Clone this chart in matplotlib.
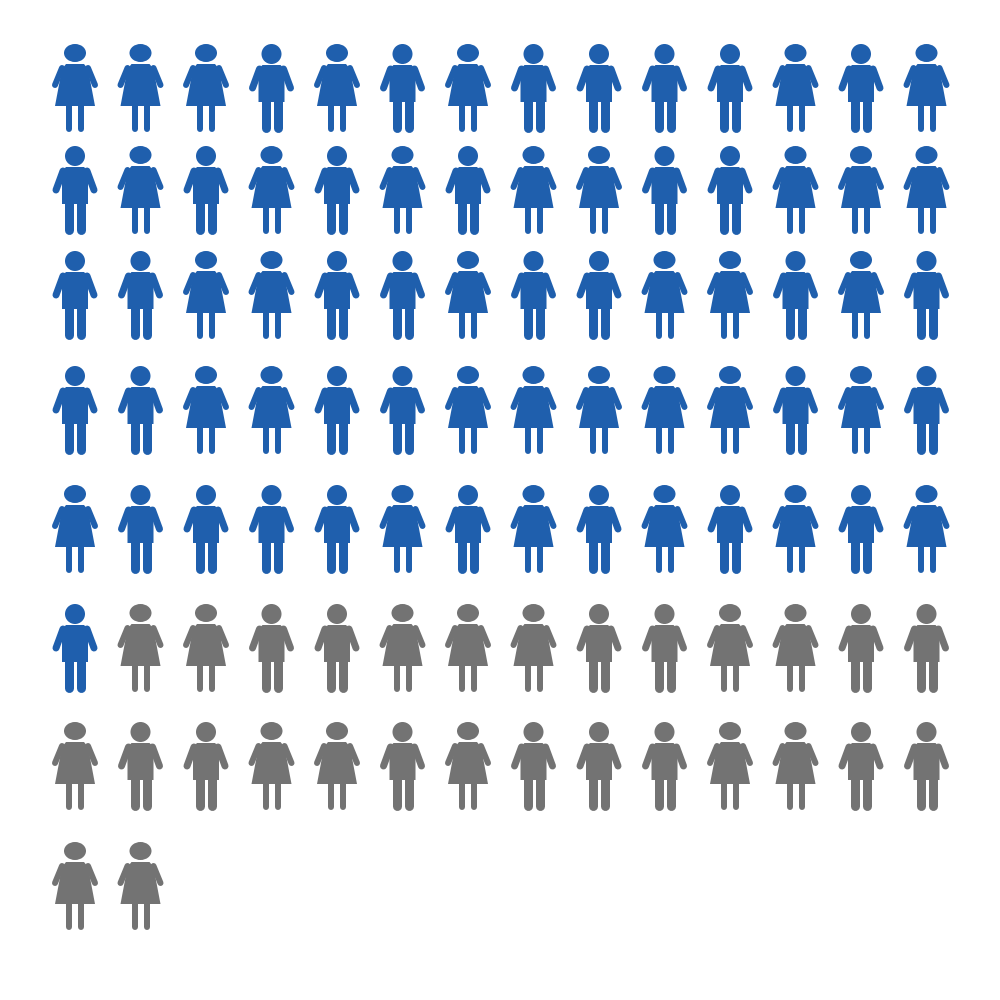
import matplotlib.pyplot as plt
from matplotlib.patches import Circle, Ellipse, Polygon

# icon layout: M = male figure, F = female figure
genders = [
    "FFFMFMFMMMMFMF",
    "MFMFMFMFFMMFFF",
    "MMFFMMFMMFFMFM",
    "MMFFMMFFFFFMFM",
    "FMMMMFMFMFMFMF",
    "MFFMMFFFMMFFMM",
    "FMMFFMFMMMFFMM",
    "FF",
]
highlighted = 71
total = 100
blue = "#1f5fad"
gray = "#737373"

col_x = [75 + 65.5 * i for i in range(14)]
row_top = [44, 146, 251, 366, 485, 604, 722, 842]

fig = plt.figure(figsize=(10, 10), dpi=100)
ax = fig.add_axes([0, 0, 1, 1])
ax.set_xlim(0, 1000)
ax.set_ylim(1000, 0)
ax.axis("off")
PT = 0.72


def line(xs, ys, w, c):
    ax.plot(xs, ys, color=c, lw=w * PT, solid_capstyle="round")


def male(cx, t, c):
    ax.add_patch(Circle((cx, t + 10), 10, color=c, lw=0))
    ax.add_patch(Polygon([(cx - 9, t + 21), (cx + 9, t + 21), (cx + 13, t + 25),
                          (cx + 13, t + 58), (cx - 13, t + 58), (cx - 13, t + 25)],
                         closed=True, color=c, lw=0))
    line([cx - 12, cx - 19], [t + 25, t + 44], 7, c)
    line([cx + 12, cx + 19], [t + 25, t + 44], 7, c)
    line([cx - 6, cx - 6], [t + 55, t + 84], 9, c)
    line([cx + 6, cx + 6], [t + 55, t + 84], 9, c)


def female(cx, t, c):
    ax.add_patch(Ellipse((cx, t + 9), 22, 18, color=c, lw=0))
    ax.add_patch(Polygon([(cx - 9, t + 20), (cx + 9, t + 20), (cx + 13, t + 25),
                          (cx + 20, t + 62), (cx - 20, t + 62), (cx - 13, t + 25)],
                         closed=True, color=c, lw=0))
    line([cx - 13, cx - 20], [t + 24, t + 41], 6, c)
    line([cx + 13, cx + 20], [t + 24, t + 41], 6, c)
    line([cx - 6, cx - 6], [t + 60, t + 85], 6, c)
    line([cx + 6, cx + 6], [t + 60, t + 85], 6, c)


n = 0
for r, row in enumerate(genders):
    for ci, g in enumerate(row):
        if n >= total:
            break
        c = blue if n < highlighted else gray
        (male if g == "M" else female)(col_x[ci], row_top[r], c)
        n += 1

fig.savefig("out.png")
